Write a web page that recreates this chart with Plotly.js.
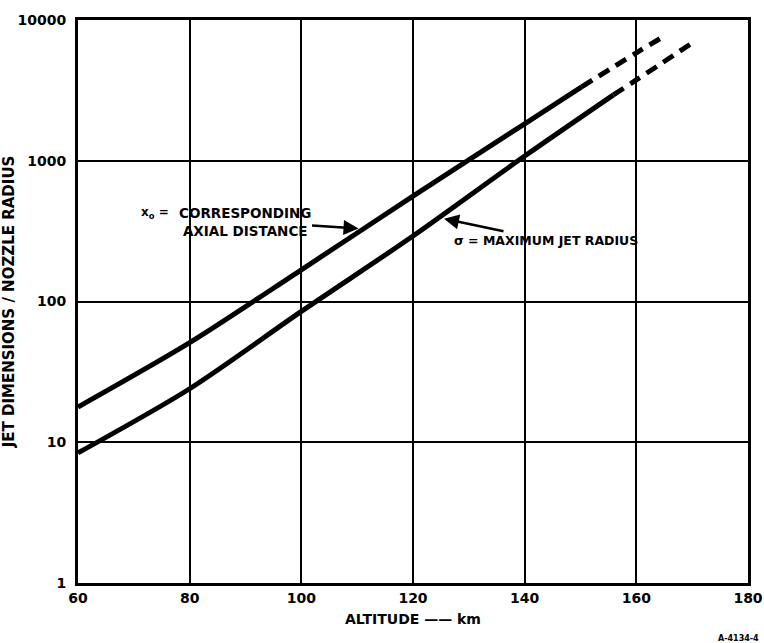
<!DOCTYPE html>
<html>
<head>
<meta charset="utf-8">
<script src="https://cdn.plot.ly/plotly-3.0.1.min.js"></script>
<style>html,body{margin:0;padding:0;background:#fff;}#chart{width:764px;height:643px;}</style>
</head>
<body>
<div id="chart"></div>
<script>
// ---- data ----
const upperAltSolid = [60, 80, 100, 120, 140, 150.2];
const upperValSolid = [17.8, 51, 168, 560, 1830, 3350];
const upperAltDash  = [150.2, 160, 164.8];
const upperValDash  = [3350, 5850, 7600];

const lowerAltSolid = [60, 80, 100, 120, 140, 155.9];
const lowerValSolid = [8.4, 24, 85, 292, 1080, 2940];
const lowerAltDash  = [155.9, 160, 169.6];
const lowerValDash  = [2940, 3750, 6700];

const xTicks = [60, 80, 100, 120, 140, 160, 180];
const yTicks = [1, 10, 100, 1000, 10000];
const yTickText = ['1', '10', '100', '1000', '10000'];

// ---- layout helpers (pixel -> paper) ----
const L = 78, R = 748, T = 20, B = 583;
const px = x => (x - L) / (R - L);
const py = y => (B - y) / (B - T);

const FONT = 'DejaVu Sans, Liberation Sans, sans-serif';
const lineStyle = {color: '#000', width: 5, shape: 'spline', smoothing: 0.8};
const dashStyle = {color: '#000', width: 5, shape: 'spline', smoothing: 0.8, dash: '12px,8px'};

const traces = [
  {x: upperAltSolid, y: upperValSolid, mode: 'lines', line: lineStyle, hoverinfo: 'skip'},
  {x: upperAltDash, y: upperValDash, mode: 'lines', line: dashStyle, hoverinfo: 'skip'},
  {x: lowerAltSolid, y: lowerValSolid, mode: 'lines', line: lineStyle, hoverinfo: 'skip'},
  {x: lowerAltDash, y: lowerValDash, mode: 'lines', line: dashStyle, hoverinfo: 'skip'}
];

const layout = {
  width: 764, height: 643,
  margin: {l: L, r: 764 - R, t: T, b: 643 - B},
  paper_bgcolor: '#fff', plot_bgcolor: '#fff',
  showlegend: false,
  font: {family: FONT, color: '#000', size: 14, weight: 'bold'},
  xaxis: {
    range: [60, 180], tickvals: xTicks, ticktext: xTicks.map(String),
    ticklabeloverflow: 'allow',
    showgrid: true, gridcolor: '#000', gridwidth: 2,
    showline: true, linecolor: '#000', linewidth: 3, mirror: true,
    zeroline: false, ticks: '', ticklen: 0,
    tickfont: {family: FONT, size: 14, color: '#000', weight: 'bold'},
    title: {text: 'ALTITUDE —— km', font: {family: FONT, size: 14, color: '#000', weight: 'bold'}, standoff: 10}
  },
  yaxis: {
    type: 'log', range: [0, 4], tickvals: yTicks, ticktext: yTickText,
    ticklabeloverflow: 'allow', ticklabelstandoff: 6,
    showgrid: true, gridcolor: '#000', gridwidth: 2,
    showline: true, linecolor: '#000', linewidth: 3, mirror: true,
    zeroline: false, ticks: '', ticklen: 0,
    tickfont: {family: FONT, size: 14, color: '#000', weight: 'bold'},
    title: {text: 'JET DIMENSIONS / NOZZLE RADIUS', font: {family: FONT, size: 15, color: '#000', weight: 'bold'}, standoff: 8}
  },
  annotations: [
    {xref: 'paper', yref: 'paper', x: px(171), y: py(213), xanchor: 'right', yanchor: 'middle',
     text: 'x<sub>o</sub> =', showarrow: false, font: {size: 12, weight: 'bold'}},
    {xref: 'x', yref: 'y', x: 110.6, y: Math.log10(330), ax: -116, ay: -7,
     text: 'CORRESPONDING<br>AXIAL DISTANCE', align: 'center', font: {size: 13.5, weight: 'bold'},
     showarrow: true, arrowhead: 2, arrowsize: 1.2, arrowwidth: 2.5, arrowcolor: '#000', standoff: 2},
    {xref: 'x', yref: 'y', x: 125.2, y: Math.log10(390), ax: 104, ay: 22,
     text: 'σ = MAXIMUM JET RADIUS', font: {size: 12.5, weight: 'bold'},
     showarrow: true, arrowhead: 2, arrowsize: 1.2, arrowwidth: 2.5, arrowcolor: '#000', standoff: 2},
    {xref: 'paper', yref: 'paper', x: px(761), y: py(638), xanchor: 'right', yanchor: 'middle',
     text: 'A-4134-4', showarrow: false, font: {size: 8, weight: 'bold'}}
  ]
};

Plotly.newPlot('chart', traces, layout, {staticPlot: true, displayModeBar: false});
</script>
</body>
</html>
